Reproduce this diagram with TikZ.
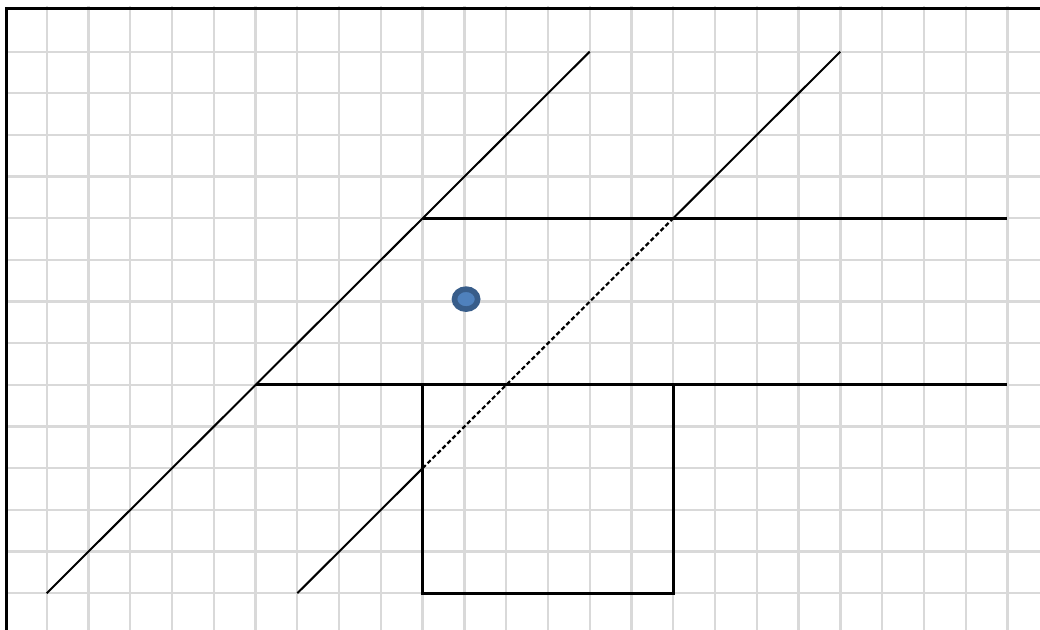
\documentclass[tikz,border=0pt]{standalone}
\usetikzlibrary{shapes.geometric}
\begin{document}
\begin{tikzpicture}[x=20.885pt,y=-20.83pt,
  gridline/.style={draw=gridgray,line width=1.15pt},
  frameline/.style={draw=black,line width=1.5pt},
  thickline/.style={draw=black,line width=1.5pt},
  diagline/.style={draw=black,line width=1pt},
  dashline/.style={draw=black,line width=1.1pt,dash pattern=on 2.2pt off 1.3pt}]
\definecolor{gridgray}{HTML}{D9D9D9}
\definecolor{dotfill}{HTML}{4F81BD}
\definecolor{dotline}{HTML}{385D8A}
% bounding box = image 1040x630 px
\useasboundingbox (-0.118,-0.24) rectangle (24.78,14.88);
\fill[white] (-0.118,-0.24) rectangle (24.78,14.88);
% grid
\begin{scope}
\clip (-0.118,-0.1) rectangle (24.78,14.88);
\foreach \i in {1,...,24} \draw[gridline] (\i,-0.1) -- (\i,14.88);
\foreach \j in {1,...,14} \draw[gridline] (0,\j) -- (24.78,\j);
\end{scope}
% frame (top and left)
\draw[frameline] (24.78,-0.03) -- (0.04,-0.03) -- (0.04,14.88);
% named points
\coordinate (a1) at (1,14);
\coordinate (a2) at (14,1);
\coordinate (b1) at (7,14);
\coordinate (b2) at (10,11);
\coordinate (b3) at (16,5);
\coordinate (b4) at (20,1);
\coordinate (h1s) at (10,5);
\coordinate (h1e) at (24,5);
\coordinate (h2s) at (6,9);
\coordinate (h2e) at (24,9);
\coordinate (r1) at (10,9);
\coordinate (r2) at (16,14);
% diagonals
\draw[diagline] (a1) -- (a2);
\draw[diagline] (b1) -- (b2);
\draw[dashline] (b2) -- (b3);
\draw[diagline] (b3) -- (b4);
% horizontals
\draw[thickline] (h1s) -- (h1e);
\draw[thickline] (h2s) -- (h2e);
% rectangle
\draw[thickline] (r1) rectangle (r2);
% dot
\node[ellipse,fill=dotfill,draw=dotline,line width=2.8pt,minimum width=11.6pt,minimum height=10pt,inner sep=0pt] (dot) at (11.04,6.94) {};
\end{tikzpicture}
\end{document}
